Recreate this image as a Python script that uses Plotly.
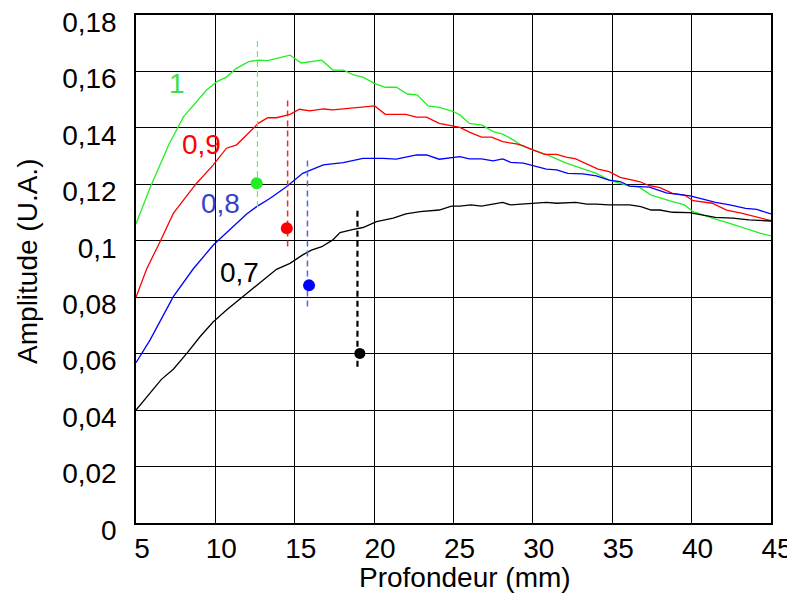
import plotly.graph_objects as go

# ---- data ----
x_g = [5, 5.9, 7.1, 8.0, 9.45, 10.1, 10.7, 11.3, 12.1, 12.7, 13.3, 14.7, 15.4, 16.7, 17.4, 18.05, 18.7, 19.3, 20.0, 20.7,
       21.4, 22.1, 22.7, 23.4, 24.1, 25.0, 25.4, 26.0, 26.8, 27.5, 28.1, 28.6, 29.4, 30.0, 30.9, 32.1, 34.0, 34.8, 36.1,
       36.7, 37.45, 38.8, 39.55, 40.1, 41.3, 42.4, 44.3, 45]
y_g = [0.106, 0.119, 0.1345, 0.144, 0.1534, 0.1564, 0.158, 0.161, 0.1635, 0.164, 0.1638, 0.1658, 0.163, 0.164, 0.1605,
       0.1605, 0.1588, 0.158, 0.1558, 0.1544, 0.1544, 0.152, 0.1517, 0.1478, 0.1473, 0.1458, 0.1446, 0.1416, 0.141,
       0.1387, 0.1378, 0.1363, 0.1334, 0.1322, 0.1304, 0.1275, 0.1239, 0.1215, 0.1194, 0.119, 0.1162, 0.1139, 0.1127,
       0.1103, 0.108, 0.1062, 0.1027, 0.1017]

x_r = [5, 5.67, 6.5, 7.35, 8.0, 8.82, 9.87, 10.7, 11.34, 11.97, 12.7, 13.3, 13.85, 14.7, 15.3, 15.95, 16.8, 17.4, 18.7,
       19.3, 20.04, 20.7, 22.0, 22.67, 23.3, 24.1, 25.0, 25.4, 26.0, 26.76, 27.4, 28.1, 28.96, 29.4, 30.0, 30.74, 31.5,
       32.1, 32.7, 33.4, 34.1, 34.8, 35.5, 36.7, 37.35, 38.0, 38.8, 39.55, 40.1, 41.3, 42.2, 43.2, 45]
y_r = [0.080, 0.090, 0.0995, 0.1097, 0.1145, 0.1204, 0.1269, 0.1328, 0.134, 0.1375, 0.1416, 0.1436, 0.1436, 0.1448,
       0.1466, 0.146, 0.1467, 0.1464, 0.147, 0.1473, 0.1478, 0.1448, 0.1448, 0.1438, 0.1438, 0.1416, 0.1407, 0.1402,
       0.1385, 0.1367, 0.1367, 0.1351, 0.1343, 0.1336, 0.1322, 0.1306, 0.1306, 0.1296, 0.129, 0.1272, 0.1254, 0.1245,
       0.1225, 0.121, 0.1195, 0.1188, 0.1168, 0.1162, 0.1142, 0.1133, 0.1109, 0.1097, 0.1071]

x_b = [5, 5.88, 7.35, 8.6, 9.87, 10.9, 11.34, 11.97, 12.6, 13.43, 14.5, 15.5, 16.8, 18.05, 19.3, 20.56, 21.4, 22.67,
       23.3, 24.1, 25.4, 26.0, 26.76, 27.5, 28.1, 28.6, 29.4, 30.2, 30.85, 31.5, 32.2, 33.15, 34.0, 34.8, 35.5, 36.1,
       37.35, 38.4, 39.9, 40.9, 41.5, 42.4, 43.4, 44.1, 45]
y_b = [0.0568, 0.0648, 0.0802, 0.090, 0.0985, 0.1038, 0.1062, 0.1095, 0.1121, 0.115, 0.1192, 0.1239, 0.1269, 0.1277,
       0.1292, 0.1292, 0.1289, 0.1304, 0.1304, 0.1289, 0.1298, 0.129, 0.129, 0.1283, 0.129, 0.1278, 0.1275, 0.1263,
       0.1254, 0.1251, 0.1239, 0.1237, 0.123, 0.1215, 0.121, 0.1194, 0.119, 0.117, 0.1159, 0.1145, 0.1136, 0.1127,
       0.1115, 0.1111, 0.1095]

x_k = [5, 5.88, 6.6, 7.35, 8.2, 9.03, 9.87, 10.7, 11.75, 12.8, 13.85, 14.7, 15.5, 16.05, 16.7, 17.4, 17.85, 18.7, 19.3,
       20.15, 21.2, 22.0, 22.9, 24.1, 24.87, 25.4, 26.1, 26.76, 27.5, 28.1, 28.6, 29.4, 30.2, 30.85, 31.5, 32.2, 32.7,
       33.4, 34.0, 34.8, 36.1, 36.8, 37.45, 38.0, 38.8, 39.86, 40.7, 41.5, 42.6, 43.6, 45]
y_k = [0.040, 0.046, 0.0509, 0.0545, 0.0601, 0.066, 0.0713, 0.0755, 0.0802, 0.0849, 0.0899, 0.092, 0.095, 0.0967,
       0.0979, 0.1003, 0.1029, 0.104, 0.1047, 0.1068, 0.108, 0.1095, 0.1103, 0.1109, 0.1123, 0.1123, 0.1127, 0.1123,
       0.1129, 0.1136, 0.1127, 0.113, 0.1133, 0.1136, 0.1133, 0.1136, 0.1136, 0.113, 0.113, 0.1127, 0.1127, 0.1121,
       0.1109, 0.1109, 0.1101, 0.11, 0.1091, 0.1083, 0.108, 0.1074, 0.107]

series_labels = ["1", "0,9", "0,8", "0,7"]
label_x = [7.6, 9.13, 10.34, 11.51]
label_y = [0.1558, 0.134, 0.1133, 0.0886]

dot_x = [12.6, 14.5, 15.9, 19.1]
dot_y = [0.1204, 0.1044, 0.0842, 0.0601]
bar_x = [12.65, 14.55, 15.8, 18.95]
bar_lo = [0.112, 0.098, 0.0767, 0.0554]
bar_hi = [0.1723, 0.1505, 0.1292, 0.1115]

x_ticks = [5, 10, 15, 20, 25, 30, 35, 40, 45]
y_ticks = [0, 0.02, 0.04, 0.06, 0.08, 0.10, 0.12, 0.14, 0.16, 0.18]
y_ticktext = ["0", "0,02", "0,04", "0,06", "0,08", "0,1", "0,12", "0,14", "0,16", "0,18"]

# ---- styles ----
FONT = "Liberation Sans, Arial, sans-serif"
line_colors = ["#22ee22", "#ff0000", "#0000ff", "#000000"]
label_colors = ["#44dd44", "#ff0000", "#3344cc", "#000000"]
bar_colors = ["#66ee66", "#ff2222", "#5566dd", "#000000"]
bar_widths = [1.2, 1.5, 1.5, 2.2]
dot_colors = ["#22ee22", "#ff0000", "#0000ff", "#000000"]
dot_sizes = [12, 12, 12, 11]

fig = go.Figure()
for xs, ys, c in [(x_g, y_g, line_colors[0]), (x_r, y_r, line_colors[1]),
                  (x_b, y_b, line_colors[2]), (x_k, y_k, line_colors[3])]:
    fig.add_trace(go.Scatter(x=xs, y=ys, mode="lines", line=dict(color=c, width=1.3),
                             showlegend=False, hoverinfo="skip", cliponaxis=False))

for i in range(4):
    fig.add_trace(go.Scatter(x=[bar_x[i], bar_x[i]], y=[bar_lo[i], bar_hi[i]], mode="lines",
                             line=dict(color=bar_colors[i], width=bar_widths[i], dash="6px,4px"),
                             showlegend=False, hoverinfo="skip"))
    fig.add_trace(go.Scatter(x=[dot_x[i]], y=[dot_y[i]], mode="markers",
                             marker=dict(color=dot_colors[i], size=dot_sizes[i], line=dict(width=0)),
                             showlegend=False, hoverinfo="skip"))

for i in range(4):
    fig.add_annotation(x=label_x[i], y=label_y[i], text=series_labels[i], showarrow=False,
                       font=dict(family=FONT, size=28, color=label_colors[i]),
                       xanchor="center", yanchor="middle")

fig.add_annotation(xref="paper", yref="paper", x=0.518, y=-0.108, text="Profondeur (mm)",
                   showarrow=False, font=dict(family=FONT, size=28, color="black"),
                   xanchor="center", yanchor="middle")
fig.add_annotation(xref="paper", yref="paper", x=-0.170, y=0.514, text="Amplitude (U.A.)",
                   showarrow=False, textangle=-90, font=dict(family=FONT, size=28, color="black"),
                   xanchor="center", yanchor="middle")

fig.update_xaxes(range=[5, 45], tickvals=x_ticks, ticktext=[str(v) for v in x_ticks],
                 showgrid=True, gridcolor="black", gridwidth=1, zeroline=False,
                 showline=True, linecolor="black", linewidth=1.5, mirror=True,
                 ticks="", tickfont=dict(family=FONT, size=28, color="black"),
                 ticklabelshift=6, ticklabelstandoff=0, automargin=False,
                 ticklabeloverflow="allow")
fig.update_yaxes(range=[0, 0.18], tickvals=y_ticks, ticktext=y_ticktext,
                 showgrid=True, gridcolor="black", gridwidth=1, zeroline=False,
                 showline=True, linecolor="black", linewidth=1.5, mirror=True,
                 ticks="", tickfont=dict(family=FONT, size=28, color="black"),
                 ticklabelshift=7, ticklabelstandoff=12, automargin=False,
                 ticklabeloverflow="allow")

# the page adds an 8px body margin: the figure is sized so the plot area lands where the reference has it
fig.update_layout(width=787, height=592, margin=dict(l=128, r=24, t=7, b=77, autoexpand=False),
                  paper_bgcolor="white", plot_bgcolor="white", showlegend=False)

fig.write_html("out.html")
